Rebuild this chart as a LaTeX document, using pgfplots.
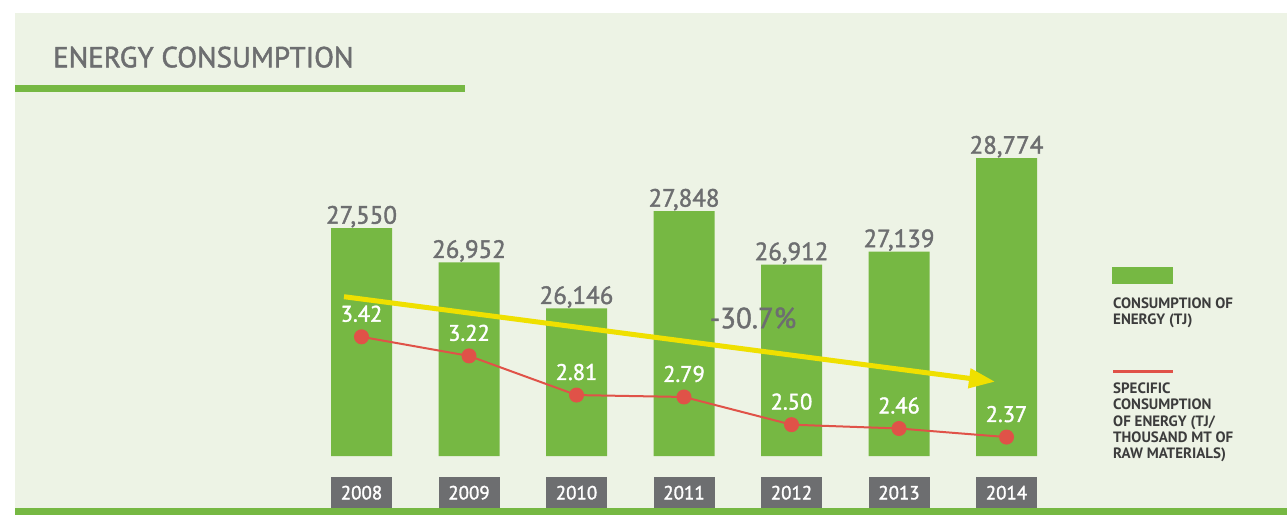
\documentclass[border=0pt]{standalone}
\usepackage{pgfplots}
\pgfplotsset{compat=1.18}
\usepackage{fontspec}
\setmainfont{PT Sans}
\newfontfamily\medfont{PT Sans}[FakeBold=1.6]
\usetikzlibrary{arrows.meta,calc}
\pgfdeclarelayer{bg}
\pgfsetlayers{bg,main}
\definecolor{bg}{HTML}{EDF3E5}
\definecolor{barg}{HTML}{76B843}
\definecolor{txtgray}{HTML}{6D6E70}
\definecolor{legtext}{HTML}{3C3C3C}
\definecolor{lred}{HTML}{E05248}
\definecolor{arrowy}{HTML}{EFE000}

\begin{document}
\begin{tikzpicture}[x=1pt,y=1pt]
% both series share one axis; the specific consumption is mapped onto the TJ scale
\begin{axis}[
    name=ba,
    scale only axis, width=752.5pt, height=356pt,
    xmin=-0.5, xmax=6.5, ymin=23566, ymax=29792,
    axis line style={draw=none}, tick style={draw=none},
    ytick=\empty, xtick={0,...,6},
    xticklabels={2008,2009,2010,2011,2012,2013,2014},
    xticklabel style={fill=txtgray, text=white, font=\medfont\fontsize{19}{20}\selectfont,
        minimum width=61pt, minimum height=31pt, inner sep=0pt,
        anchor=north, yshift=-21pt},
    clip mode=individual,
    /pgf/number format/1000 sep={,},
    /pgf/number format/assume math mode=true,
]
% consumption of energy (TJ)
\addplot[ybar, bar width=61pt, fill=barg, draw=none,
    nodes near coords,
    nodes near coords style={anchor=base, yshift=4.5pt, text=txtgray,
        font=\medfont\fontsize{25}{26}\selectfont}] coordinates {
    (0,27550) (1,26952) (2,26146) (3,27848) (4,26912) (5,27139) (6,28774)
};
% specific consumption (TJ / thousand MT of raw materials)
\addplot[lred, line width=2pt, mark=*, mark size=6.5pt,
    mark options={fill=lred, draw=none},
    y filter/.expression={23566+(y-2.172)*1670.5},
    point meta=explicit symbolic,
    nodes near coords,
    nodes near coords style={anchor=center, yshift=23pt, text=white,
        font=\medfont\fontsize{22.5}{24}\selectfont}] coordinates {
    (0,3.42) [3.42] (1,3.22) [3.22] (2,2.81) [2.81] (3,2.79) [2.79]
    (4,2.50) [2.50] (5,2.46) [2.46] (6,2.37) [2.37]
};
\end{axis}

\begin{scope}[shift={($(ba.south west)-(307.75,59)$)}]
\begin{pgfonlayer}{bg}
\fill[white] (0,0) rectangle (1287,515);
\fill[bg] (15,0) rectangle (1287,502);
\fill[barg] (15,0) rectangle (1287,7);
\fill[barg] (15,422.5) rectangle (465,430);
\end{pgfonlayer}
\node[anchor=base west, inner sep=0, text=txtgray, font=\medfont\fontsize{29}{32}\selectfont]
  at (53,447.7) {ENERGY CONSUMPTION};

% trend arrow
\draw[arrowy, line width=5pt, -{Triangle[length=26pt,width=19pt]}] (344,218.3) -- (995,133.3);
\node[text=txtgray, font=\medfont\fontsize{29}{32}\selectfont, inner sep=0] at (753,197) {-30.7\%};

% legend
\fill[barg] (1112,231.3) rectangle (1173,248.3);
\node[anchor=north west, inner sep=0, align=left, text=legtext,
    font=\bfseries\fontsize{15}{16}\selectfont] at (1113,217)
    {CONSUMPTION OF\\ENERGY (TJ)};
\draw[lred, line width=2.5pt] (1113,143.3) -- (1173,143.3);
\node[anchor=north west, inner sep=0, align=left, text=legtext,
    font=\bfseries\fontsize{15}{16.3}\selectfont] at (1113,132.3)
    {SPECIFIC\\CONSUMPTION\\OF ENERGY (TJ/\\THOUSAND MT OF\\RAW MATERIALS)};
\end{scope}
\end{tikzpicture}
\end{document}
